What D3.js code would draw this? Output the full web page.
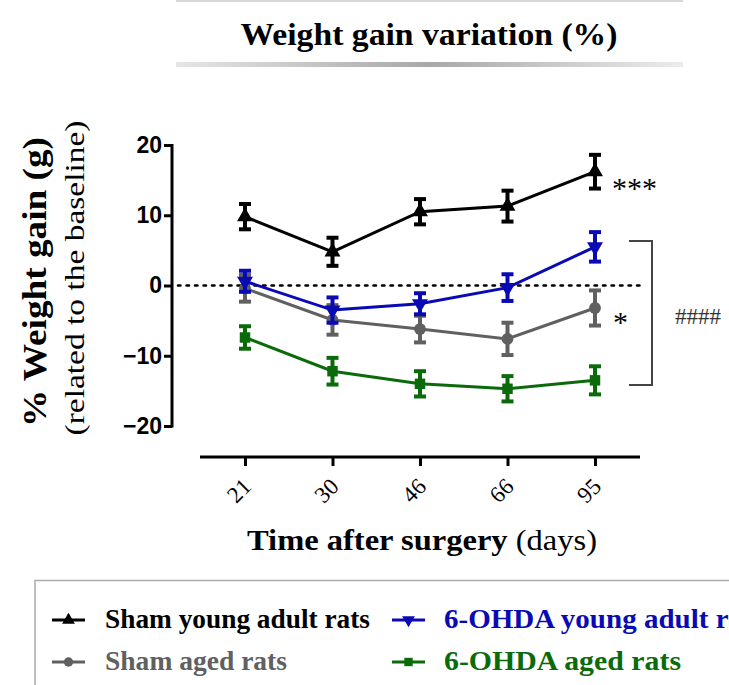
<!DOCTYPE html>
<html>
<head>
<meta charset="utf-8">
<script src="https://cdn.jsdelivr.net/npm/d3@7"></script>
<style>
  body { margin: 0; background: #fff; }
  svg { display: block; }
</style>
</head>
<body>
<svg id="chart" width="729" height="685"></svg>
<script>
var days = ["21", "30", "46", "66", "95"];
var yTicks = [-20, -10, 0, 10, 20];

var shamYoung = [9.8, 4.8, 10.5, 11.3, 16.2];
var shamYoungErr = [1.8, 2.0, 1.8, 2.2, 2.4];
var ohdaYoung = [0.6, -3.5, -2.6, -0.3, 5.5];
var ohdaYoungErr = [1.5, 1.8, 1.5, 1.9, 2.1];
var shamAged = [-0.4, -4.9, -6.2, -7.6, -3.2];
var shamAgedErr = [1.9, 2.1, 1.9, 2.3, 2.5];
var ohdaAged = [-7.4, -12.2, -14.0, -14.7, -13.5];
var ohdaAgedErr = [1.6, 1.9, 1.8, 1.8, 2.0];

var series = [
  {name: "Sham young adult rats", values: shamYoung, err: shamYoungErr, color: "#000000", symbol: "up"},
  {name: "Sham aged rats", values: shamAged, err: shamAgedErr, color: "#606060", symbol: "circle"},
  {name: "6-OHDA young adult rats", values: ohdaYoung, err: ohdaYoungErr, color: "#0a0ab4", symbol: "down"},
  {name: "6-OHDA aged rats", values: ohdaAged, err: ohdaAgedErr, color: "#0b6b0b", symbol: "square"}
];
// drawing order: bottom to top
var drawOrder = [3, 1, 2, 0];

var SERIF = "'Liberation Serif'";
var SANS = "'Liberation Sans'";

var svg = d3.select("#chart");

var x = d3.scalePoint().domain(days).range([245, 595]);
var y = d3.scaleLinear().domain([-20, 20]).range([426, 145]);

// title block
var grad = svg.append("defs").append("linearGradient").attr("id", "bar");
grad.append("stop").attr("offset", "0%").attr("stop-color", "#e6e6e6");
grad.append("stop").attr("offset", "50%").attr("stop-color", "#a8a8a8");
grad.append("stop").attr("offset", "100%").attr("stop-color", "#ececec");

svg.append("rect").attr("x", 176).attr("y", 0).attr("width", 507).attr("height", 2)
  .attr("fill", "#d8d8d8");
svg.append("rect").attr("x", 176).attr("y", 62).attr("width", 507).attr("height", 5)
  .attr("fill", "url(#bar)");
svg.append("text").attr("x", 429).attr("y", 45)
  .attr("text-anchor", "middle")
  .style("font-family", SERIF)
  .attr("font-size", 32).attr("font-weight", "bold")
  .attr("textLength", 377).attr("lengthAdjust", "spacingAndGlyphs")
  .text("Weight gain variation (%)");

// y axis
var yAxis = svg.append("g")
  .attr("transform", "translate(172,0)")
  .call(d3.axisLeft(y).tickValues(yTicks).tickSize(8).tickPadding(2));
yAxis.select(".domain").attr("stroke-width", 3).attr("d", "M0,144V427.5");
yAxis.selectAll(".tick line").attr("stroke-width", 3);
yAxis.selectAll(".tick text")
  .style("font-family", SANS)
  .attr("font-weight", "bold").attr("font-size", 23).attr("fill", "#000");

// x axis
var xAxis = svg.append("g")
  .attr("transform", "translate(0,457)")
  .call(d3.axisBottom(x).tickSize(9).tickPadding(0));
xAxis.select(".domain").attr("stroke-width", 3).attr("d", "M200,0H640");
xAxis.selectAll(".tick line").attr("stroke-width", 3);
xAxis.selectAll(".tick text")
  .style("font-family", SERIF)
  .attr("font-size", 23).attr("fill", "#000")
  .attr("text-anchor", "middle")
  .attr("dy", null).attr("y", null)
  .attr("transform", "translate(-1,39) rotate(-45)");

// axis titles
svg.append("text")
  .attr("transform", "translate(46,282) rotate(-90)")
  .attr("text-anchor", "middle")
  .style("font-family", SERIF)
  .attr("font-size", 33).attr("font-weight", "bold")
  .attr("textLength", 290).attr("lengthAdjust", "spacingAndGlyphs")
  .text("% Weight gain (g)");
svg.append("text")
  .attr("transform", "translate(84,278) rotate(-90)")
  .attr("text-anchor", "middle")
  .style("font-family", SERIF)
  .attr("font-size", 27)
  .attr("textLength", 315).attr("lengthAdjust", "spacingAndGlyphs")
  .text("(related to the baseline)");

var xt = svg.append("text").attr("x", 422).attr("y", 550)
  .attr("text-anchor", "middle").attr("font-size", 30)
  .style("font-family", SERIF)
  .attr("textLength", 350).attr("lengthAdjust", "spacingAndGlyphs");
xt.append("tspan").attr("font-weight", "bold").text("Time after surgery ");
xt.append("tspan").text("(days)");

// baseline dotted
svg.append("line").attr("x1", 178).attr("x2", 640)
  .attr("y1", y(0)).attr("y2", y(0))
  .attr("stroke", "#000").attr("stroke-width", 2.5)
  .attr("stroke-dasharray", "2.5,6").attr("stroke-linecap", "round");

function symbolPath(kind, s) {
  if (kind === "up" || kind === "down") return d3.symbol().type(d3.symbolTriangle).size(s)();
  if (kind === "circle") return d3.symbol().type(d3.symbolCircle).size(s)();
  return d3.symbol().type(d3.symbolSquare).size(s)();
}

var line = d3.line()
  .x(function(d, i) { return x(days[i]); })
  .y(function(d) { return y(d); });

drawOrder.forEach(function(k) {
  var s = series[k];
  var g = svg.append("g");
  g.append("path").datum(s.values)
    .attr("d", line).attr("fill", "none")
    .attr("stroke", s.color).attr("stroke-width", 3);

  s.values.forEach(function(v, i) {
    var cx = x(days[i]);
    var e = s.err[i];
    g.append("line").attr("x1", cx).attr("x2", cx)
      .attr("y1", y(v + e)).attr("y2", y(v - e))
      .attr("stroke", s.color).attr("stroke-width", 4);
    [v + e, v - e].forEach(function(c) {
      g.append("line").attr("x1", cx - 6).attr("x2", cx + 6)
        .attr("y1", y(c)).attr("y2", y(c))
        .attr("stroke", s.color).attr("stroke-width", 4);
    });
    g.append("path")
      .attr("d", symbolPath(s.symbol, 110))
      .attr("transform", "translate(" + cx + "," + y(v) + ")" + (s.symbol === "down" ? " rotate(180)" : ""))
      .attr("fill", s.color);
  });
});

// significance marks
svg.append("text").attr("x", 612).attr("y", 198)
  .style("font-family", SERIF)
  .attr("font-size", 30).text("***");
svg.append("text").attr("x", 613).attr("y", 332)
  .style("font-family", SERIF)
  .attr("font-size", 30).text("*");
svg.append("path")
  .attr("d", "M629,241H652V385H629")
  .attr("fill", "none").attr("stroke", "#444").attr("stroke-width", 2);
svg.append("text").attr("x", 675).attr("y", 324)
  .style("font-family", SERIF)
  .attr("font-size", 23).attr("fill", "#333").text("####");

// legend
svg.append("rect").attr("x", 35).attr("y", 580.5).attr("width", 720).attr("height", 130)
  .attr("fill", "none").attr("stroke", "#aaa").attr("stroke-width", 1.5);

var legendPos = [
  {lx: 52, tx: 105, ty: 628},
  {lx: 52, tx: 105, ty: 670},
  {lx: 392, tx: 444, ty: 628},
  {lx: 392, tx: 444, ty: 670}
];
var legendWidth = [265, 182, 320, 237];

series.forEach(function(s, k) {
  var p = legendPos[k];
  var my = p.ty - 8;
  svg.append("line").attr("x1", p.lx).attr("x2", p.lx + 33)
    .attr("y1", my).attr("y2", my)
    .attr("stroke", s.color).attr("stroke-width", 3);
  svg.append("path")
    .attr("d", symbolPath(s.symbol, 70))
    .attr("transform", "translate(" + (p.lx + 16.5) + "," + my + ")" + (s.symbol === "down" ? " rotate(180)" : ""))
    .attr("fill", s.color);
  svg.append("text").attr("x", p.tx).attr("y", p.ty)
    .style("font-family", SERIF)
    .attr("font-size", 27).attr("font-weight", "bold")
    .attr("fill", s.color)
    .attr("textLength", legendWidth[k]).attr("lengthAdjust", "spacingAndGlyphs")
    .text(s.name);
});
</script>
</body>
</html>
